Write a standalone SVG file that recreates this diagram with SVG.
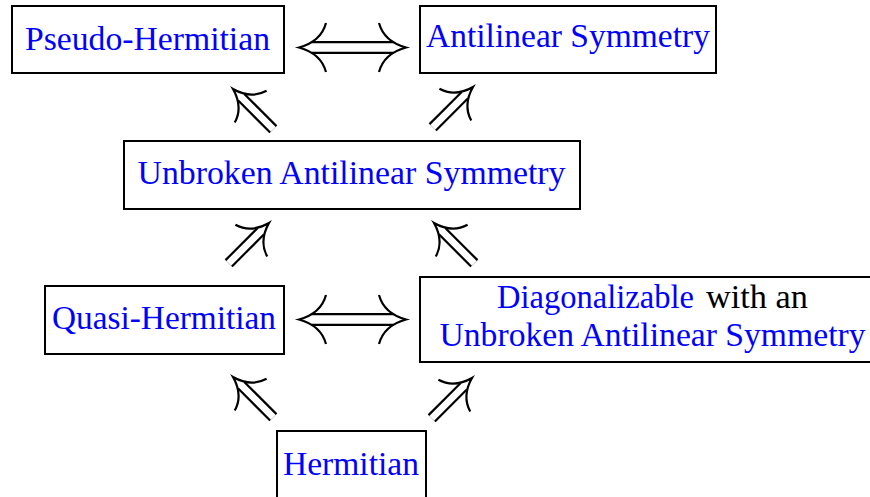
<svg xmlns="http://www.w3.org/2000/svg" xmlns:xlink="http://www.w3.org/1999/xlink" width="870" height="497" viewBox="0 0 870 497">
<style>
.box{fill:#fff;stroke:#000;stroke-width:2}
.lbl{fill:#0000ff}
.blk{fill:#000}
.ln{fill:none;stroke:#000;stroke-width:2.2}
.cap{fill:none;stroke:#aaa;stroke-width:0.6}
</style>
<defs>
<g id="darr">
<path class="cap" d="M11.5,-4.5 L2,0 L11.5,4.5 M57,-4.5 V4.5"/>
<path class="ln" d="M25,-22.5 Q20,-5.5 0,0 Q20,5.5 25,22.5"/>
<path class="ln" d="M11.5,-4.5 H57 M11.5,4.5 H57"/>
</g>
<g id="hdbl">
<path class="cap" d="M12.5,-5.3 L2,0 L12.5,5.3 M94.5,-5.3 L105,0 L94.5,5.3"/>
<path class="ln" d="M27,-24.5 Q22,-6 0,0 Q22,6 27,24.5"/>
<path class="ln" d="M80,-24.5 Q85,-6 107,0 Q85,6 80,24.5"/>
<path class="ln" d="M12.5,-5.3 H94.5 M12.5,5.3 H94.5"/>
</g>
</defs>
<rect x="0" y="0" width="870" height="497" fill="#fff"/>
<g font-family="Liberation Serif, serif" font-size="33">
<g id="pseudo-hermitian">
<rect class="box" x="12" y="6" width="272" height="67"/>
<text class="lbl" x="25" y="50" textLength="245" lengthAdjust="spacingAndGlyphs">Pseudo-Hermitian</text>
</g>
<g id="antilinear-symmetry">
<rect class="box" x="420" y="6" width="296" height="67"/>
<text class="lbl" x="426" y="47" textLength="284" lengthAdjust="spacingAndGlyphs">Antilinear Symmetry</text>
</g>
<g id="unbroken-antilinear-symmetry">
<rect class="box" x="124" y="141" width="456" height="68"/>
<text class="lbl" x="137.5" y="184" textLength="428" lengthAdjust="spacingAndGlyphs">Unbroken Antilinear Symmetry</text>
</g>
<g id="quasi-hermitian">
<rect class="box" x="45" y="286" width="239" height="68"/>
<text class="lbl" x="52" y="329" textLength="224" lengthAdjust="spacingAndGlyphs">Quasi-Hermitian</text>
</g>
<g id="diagonalizable">
<rect class="box" x="420" y="277" width="460" height="85"/>
<text class="lbl" x="497" y="308" textLength="197" lengthAdjust="spacingAndGlyphs">Diagonalizable</text>
<text class="blk" x="706" y="308" textLength="102" lengthAdjust="spacingAndGlyphs">with an</text>
<text class="lbl" x="439.5" y="346" textLength="426" lengthAdjust="spacingAndGlyphs">Unbroken Antilinear Symmetry</text>
</g>
<g id="hermitian">
<rect class="box" x="277" y="431" width="149" height="80"/>
<text class="lbl" x="283" y="475" textLength="136" lengthAdjust="spacingAndGlyphs">Hermitian</text>
</g>
</g>
<g id="connectors">
<use xlink:href="#hdbl" transform="translate(299,47.5)"/>
<use xlink:href="#hdbl" transform="translate(299,319.5)"/>
<use xlink:href="#darr" transform="translate(233,89) rotate(45)"/>
<use xlink:href="#darr" transform="translate(473,87) rotate(135)"/>
<use xlink:href="#darr" transform="translate(269,223) rotate(135)"/>
<use xlink:href="#darr" transform="translate(434,223) rotate(45)"/>
<use xlink:href="#darr" transform="translate(233,377) rotate(45)"/>
<use xlink:href="#darr" transform="translate(472,378) rotate(135)"/>
</g>
</svg>
